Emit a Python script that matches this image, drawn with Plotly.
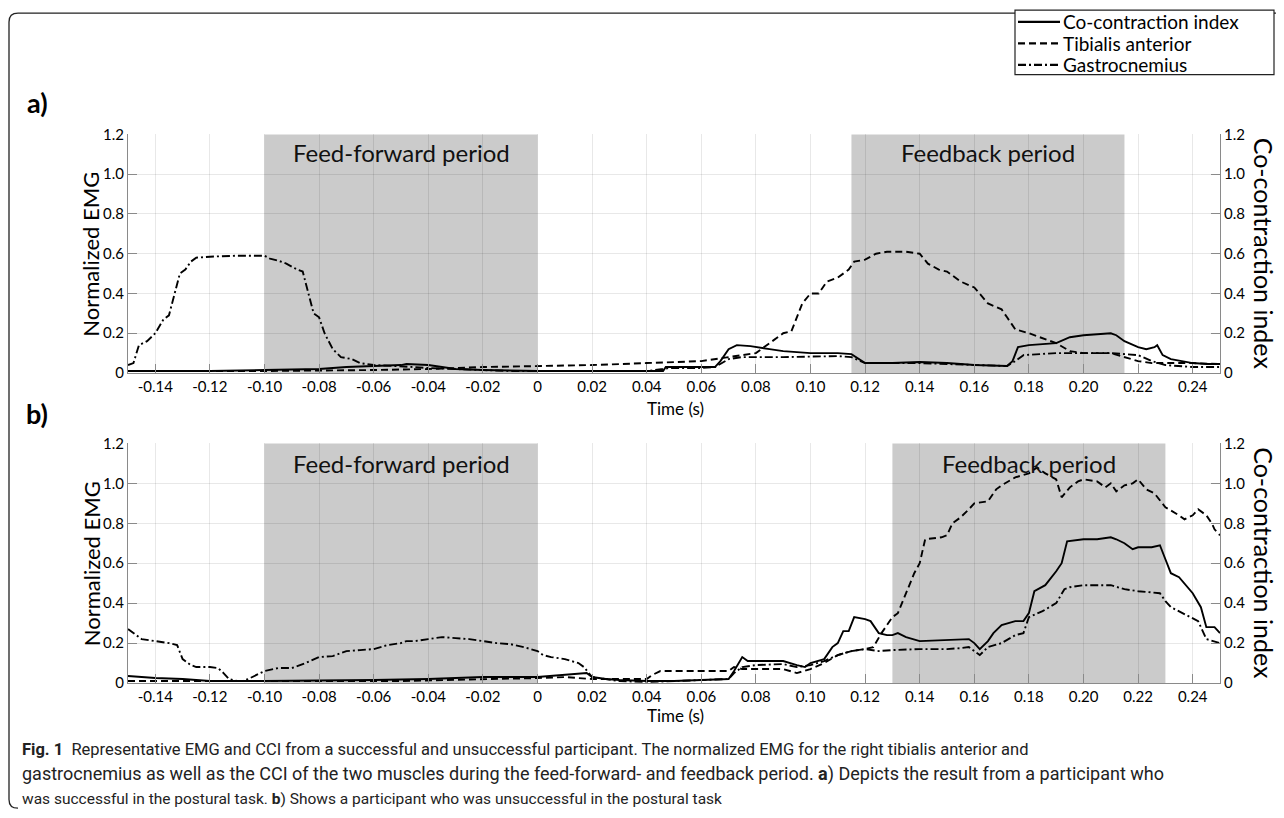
import plotly.graph_objects as go

W, H = 1284, 818

# ---------------- data ----------------
# Panel a (successful participant)
a_ga_t = [-0.150, -0.148, -0.146, -0.143, -0.140, -0.137, -0.135, -0.133, -0.131, -0.129, -0.127, -0.125,
          -0.120, -0.110, -0.100, -0.098, -0.095, -0.092, -0.088, -0.086, -0.084, -0.082, -0.080, -0.078,
          -0.075, -0.072, -0.068, -0.065, -0.060, -0.050, -0.045, -0.040, -0.030, -0.020, -0.010, 0.000,
          0.020, 0.040, 0.046, 0.048, 0.060, 0.065, 0.070, 0.075, 0.090, 0.110, 0.115, 0.120, 0.140,
          0.160, 0.172, 0.175, 0.178, 0.190, 0.210, 0.220, 0.225, 0.230, 0.240, 0.250]
a_ga_v = [0.04, 0.05, 0.14, 0.16, 0.20, 0.27, 0.29, 0.40, 0.50, 0.52, 0.56, 0.58,
          0.585, 0.59, 0.59, 0.575, 0.565, 0.55, 0.52, 0.51, 0.40, 0.30, 0.28, 0.20,
          0.12, 0.08, 0.07, 0.05, 0.04, 0.035, 0.03, 0.025, 0.02, 0.015, 0.01, 0.01,
          0.01, 0.01, 0.02, 0.025, 0.025, 0.03, 0.07, 0.08, 0.08, 0.085, 0.08, 0.05, 0.05,
          0.04, 0.035, 0.06, 0.09, 0.10, 0.10, 0.09, 0.06, 0.04, 0.03, 0.03]

a_ta_t = [-0.150, -0.100, -0.060, -0.040, -0.020, 0.000, 0.020, 0.040, 0.060, 0.070, 0.080, 0.085,
          0.090, 0.093, 0.097, 0.100, 0.103, 0.106, 0.110, 0.114, 0.116, 0.120, 0.124, 0.128, 0.135,
          0.140, 0.143, 0.147, 0.150, 0.155, 0.160, 0.165, 0.170, 0.172, 0.175, 0.180, 0.190, 0.195,
          0.200, 0.210, 0.215, 0.220, 0.225, 0.230, 0.240, 0.250]
a_ta_v = [0.01, 0.01, 0.015, 0.02, 0.03, 0.035, 0.04, 0.05, 0.06, 0.08, 0.10, 0.15,
          0.20, 0.21, 0.35, 0.40, 0.40, 0.46, 0.48, 0.52, 0.56, 0.57, 0.60, 0.61, 0.61,
          0.60, 0.55, 0.52, 0.51, 0.46, 0.43, 0.35, 0.32, 0.28, 0.22, 0.20, 0.15, 0.11,
          0.10, 0.10, 0.08, 0.06, 0.05, 0.05, 0.05, 0.045]

a_cci_t = [-0.150, -0.120, -0.100, -0.080, -0.070, -0.060, -0.050, -0.048, -0.040, -0.035, -0.030,
           -0.020, 0.000, 0.020, 0.046, 0.047, 0.065, 0.067, 0.070, 0.073, 0.078, 0.085, 0.090, 0.100,
           0.110, 0.115, 0.118, 0.120, 0.130, 0.140, 0.150, 0.160, 0.172, 0.174, 0.176, 0.180, 0.190,
           0.195, 0.200, 0.205, 0.210, 0.212, 0.215, 0.220, 0.223, 0.226, 0.227, 0.229, 0.232, 0.236,
           0.240, 0.245, 0.250]
a_cci_v = [0.01, 0.01, 0.015, 0.02, 0.03, 0.035, 0.04, 0.045, 0.04, 0.03, 0.02,
           0.015, 0.01, 0.01, 0.01, 0.03, 0.03, 0.06, 0.12, 0.14, 0.135, 0.12, 0.11, 0.10,
           0.10, 0.095, 0.07, 0.05, 0.05, 0.055, 0.05, 0.04, 0.035, 0.06, 0.13, 0.14, 0.15,
           0.18, 0.19, 0.195, 0.20, 0.19, 0.16, 0.13, 0.12, 0.13, 0.14, 0.09, 0.07, 0.06,
           0.05, 0.045, 0.045]

# Panel b (unsuccessful participant)
b_ga_t = [-0.150, -0.147, -0.145, -0.140, -0.135, -0.132, -0.131, -0.130, -0.127, -0.125, -0.120,
          -0.117, -0.115, -0.113, -0.110, -0.108, -0.106, -0.103, -0.100, -0.095, -0.090, -0.087,
          -0.085, -0.080, -0.075, -0.072, -0.070, -0.065, -0.060, -0.055, -0.050, -0.048, -0.045,
          -0.040, -0.035, -0.030, -0.025, -0.020, -0.015, -0.010, -0.005, 0.000, 0.002, 0.005, 0.010,
          0.015, 0.017, 0.020, 0.025, 0.030, 0.040, 0.050, 0.060, 0.070, 0.072, 0.075, 0.080, 0.090,
          0.095, 0.100, 0.105, 0.110, 0.115, 0.120, 0.125, 0.130, 0.140, 0.150, 0.155, 0.158, 0.162,
          0.165, 0.170, 0.175, 0.178, 0.180, 0.185, 0.190, 0.193, 0.195, 0.200, 0.210, 0.215, 0.220,
          0.228, 0.230, 0.232, 0.238, 0.242, 0.245, 0.248, 0.250]
b_ga_v = [0.27, 0.24, 0.22, 0.21, 0.20, 0.19, 0.15, 0.12, 0.09, 0.08, 0.08,
          0.075, 0.05, 0.02, 0.01, 0.01, 0.02, 0.04, 0.06, 0.075, 0.075, 0.09,
          0.10, 0.13, 0.135, 0.15, 0.16, 0.165, 0.17, 0.19, 0.20, 0.21, 0.21,
          0.22, 0.23, 0.225, 0.22, 0.21, 0.20, 0.195, 0.18, 0.16, 0.14, 0.13, 0.12,
          0.10, 0.08, 0.03, 0.02, 0.01, 0.005, 0.01, 0.015, 0.02, 0.05, 0.08, 0.09, 0.095,
          0.08, 0.09, 0.11, 0.14, 0.16, 0.17, 0.16, 0.165, 0.17, 0.17, 0.175, 0.18, 0.14,
          0.18, 0.20, 0.24, 0.25, 0.33, 0.36, 0.40, 0.47, 0.48, 0.49, 0.49, 0.47, 0.46,
          0.45, 0.41, 0.38, 0.34, 0.31, 0.22, 0.21, 0.20]

b_ta_t = [-0.150, -0.110, -0.050, 0.000, 0.010, 0.020, 0.030, 0.040, 0.042, 0.045, 0.070, 0.072,
          0.075, 0.090, 0.095, 0.100, 0.105, 0.110, 0.115, 0.120, 0.123, 0.126, 0.130, 0.132, 0.135,
          0.138, 0.140, 0.142, 0.148, 0.150, 0.152, 0.155, 0.158, 0.160, 0.165, 0.168, 0.170, 0.175,
          0.180, 0.183, 0.186, 0.190, 0.192, 0.195, 0.198, 0.200, 0.205, 0.208, 0.210, 0.212, 0.215,
          0.218, 0.220, 0.223, 0.226, 0.230, 0.235, 0.237, 0.240, 0.242, 0.245, 0.247, 0.248, 0.250]
b_ta_v = [0.01, 0.01, 0.01, 0.025, 0.03, 0.02, 0.02, 0.02, 0.04, 0.06, 0.06, 0.08,
          0.07, 0.07, 0.05, 0.07, 0.10, 0.14, 0.16, 0.17, 0.18, 0.25, 0.33, 0.35, 0.45,
          0.55, 0.60, 0.72, 0.73, 0.74, 0.80, 0.83, 0.87, 0.90, 0.91, 0.97, 0.99, 1.03,
          1.05, 1.08, 1.05, 1.02, 0.93, 0.98, 1.01, 1.02, 1.01, 0.98, 1.00, 0.96, 0.99,
          1.00, 1.02, 0.97, 0.95, 0.88, 0.84, 0.82, 0.84, 0.87, 0.84, 0.80, 0.77, 0.74]

b_cci_t = [-0.150, -0.140, -0.130, -0.125, -0.120, -0.100, -0.080, -0.060, -0.040, -0.020, 0.000,
           0.010, 0.018, 0.020, 0.025, 0.030, 0.040, 0.050, 0.060, 0.070, 0.072, 0.075, 0.077, 0.090,
           0.095, 0.098, 0.100, 0.105, 0.108, 0.110, 0.112, 0.114, 0.116, 0.120, 0.122, 0.125, 0.128,
           0.130, 0.132, 0.135, 0.140, 0.150, 0.158, 0.160, 0.162, 0.165, 0.167, 0.170, 0.175, 0.178,
           0.180, 0.182, 0.186, 0.190, 0.192, 0.194, 0.200, 0.205, 0.210, 0.212, 0.215, 0.218, 0.220,
           0.225, 0.228, 0.230, 0.232, 0.235, 0.240, 0.243, 0.245, 0.248, 0.250]
b_cci_v = [0.035, 0.025, 0.02, 0.015, 0.01, 0.01, 0.012, 0.015, 0.02, 0.03, 0.03,
           0.04, 0.05, 0.03, 0.02, 0.015, 0.01, 0.01, 0.015, 0.02, 0.06, 0.13, 0.11, 0.11,
           0.09, 0.08, 0.10, 0.12, 0.18, 0.20, 0.26, 0.26, 0.33, 0.32, 0.31, 0.25, 0.24,
           0.24, 0.25, 0.23, 0.21, 0.215, 0.22, 0.20, 0.17, 0.21, 0.25, 0.29, 0.31, 0.31,
           0.35, 0.46, 0.49, 0.56, 0.60, 0.71, 0.72, 0.72, 0.73, 0.72, 0.70, 0.67, 0.68,
           0.68, 0.69, 0.62, 0.55, 0.53, 0.45, 0.38, 0.28, 0.28, 0.25]

# shaded periods (start, end) in seconds
a_periods = [(-0.100, 0.000), (0.115, 0.215)]
b_periods = [(-0.100, 0.000), (0.130, 0.230)]
period_labels = ["Feed-forward period", "Feedback period"]

x_tickvals = [-0.14, -0.12, -0.10, -0.08, -0.06, -0.04, -0.02, 0, 0.02, 0.04, 0.06, 0.08,
              0.10, 0.12, 0.14, 0.16, 0.18, 0.20, 0.22, 0.24]
x_ticktext = ["-0.14", "-0.12", "-0.10", "-0.08", "-0.06", "-0.04", "-0.02", "0", "0.02", "0.04",
              "0.06", "0.08", "0.10", "0.12", "0.14", "0.16", "0.18", "0.20", "0.22", "0.24"]
y_tickvals = [0, 0.2, 0.4, 0.6, 0.8, 1.0, 1.2]
y_ticktext = ["0", "0.2", "0.4", "0.6", "0.8", "1.0", "1.2"]

series_names = ["Co-contraction index", "Tibialis anterior", "Gastrocnemius"]

# ---------------- styling / layout ----------------
FONT = "Lato, 'Open Sans', sans-serif"
CAP_FONT = "Roboto, 'Liberation Sans', sans-serif"
SOLID = "solid"
TA_DASH = "7px,4px"
GA_DASH = "8px,3px,2px,3px"
LW = 1.9
OFF = 8  # page body margin of the html page


def px_x(p):
    return (p - OFF) / W


def px_y(p):
    return 1 - (p - OFF) / H


X0, X1 = px_x(128), px_x(1220)
A_TOP, A_BOT = px_y(127), px_y(371)
B_TOP, B_BOT = px_y(443), px_y(688)

fig = go.Figure()

panels = [
    dict(xa="x", ya="y", yr="y3", cci=(a_cci_t, a_cci_v), ta=(a_ta_t, a_ta_v), ga=(a_ga_t, a_ga_v)),
    dict(xa="x2", ya="y2", yr="y4", cci=(b_cci_t, b_cci_v), ta=(b_ta_t, b_ta_v), ga=(b_ga_t, b_ga_v)),
]
for p in panels:
    fig.add_trace(go.Scatter(x=p["cci"][0], y=p["cci"][1], mode="lines", name=series_names[0],
                             line=dict(color="black", width=LW), xaxis=p["xa"], yaxis=p["yr"],
                             showlegend=False))
    fig.add_trace(go.Scatter(x=p["ta"][0], y=p["ta"][1], mode="lines", name=series_names[1],
                             line=dict(color="black", width=LW, dash=TA_DASH), xaxis=p["xa"], yaxis=p["ya"],
                             showlegend=False))
    fig.add_trace(go.Scatter(x=p["ga"][0], y=p["ga"][1], mode="lines", name=series_names[2],
                             line=dict(color="black", width=LW, dash=GA_DASH), xaxis=p["xa"], yaxis=p["ya"],
                             showlegend=False))

shapes = []
annotations = []


def ann(x, y, text, size, angle=0, xanchor="center", color="black", family=FONT):
    annotations.append(dict(x=px_x(x), y=px_y(y), xref="paper", yref="paper", text=text, showarrow=False,
                            textangle=angle, xanchor=xanchor, yanchor="middle",
                            font=dict(family=family, size=size, color=color)))


for periods, xa, ya, ly in [(a_periods, "x", "y", 1.11), (b_periods, "x2", "y2", 1.1)]:
    for (s, e), lab in zip(periods, period_labels):
        shapes.append(dict(type="rect", xref=xa, yref=ya + " domain", x0=s, x1=e, y0=0, y1=1,
                           fillcolor="#cbcbcb", line=dict(width=0), layer="below"))
        annotations.append(dict(x=(s + e) / 2, y=ly, xref=xa, yref=ya, text=lab, showarrow=False,
                                font=dict(family=FONT, size=24, color="#111"), xanchor="center", yanchor="middle"))

# figure border (rounded on the left)
bx, by_t, by_b, r = 9, 3, 816, 9
path = (f"M 1.02,{px_y(by_t)} L {px_x(bx + r)},{px_y(by_t)} "
        f"Q {px_x(bx)},{px_y(by_t)} {px_x(bx)},{px_y(by_t + r)} "
        f"L {px_x(bx)},{px_y(by_b - r)} Q {px_x(bx)},{px_y(by_b)} {px_x(bx + r)},{px_y(by_b)}")
shapes.append(dict(type="path", xref="paper", yref="paper", path=path,
                   line=dict(color="#222", width=1.3)))

# legend (drawn box with line samples)
LG_X0, LG_X1, LG_Y0, LG_Y1 = 1015, 1274, 0, 66
shapes.append(dict(type="rect", xref="paper", yref="paper", x0=px_x(LG_X0), x1=px_x(LG_X1),
                   y0=px_y(LG_Y0), y1=px_y(LG_Y1), line=dict(color="#222", width=1.2), fillcolor="white"))
for i, (name, dash) in enumerate(zip(series_names, [SOLID, TA_DASH, GA_DASH])):
    yy = 12 + 22 * i
    shapes.append(dict(type="line", xref="paper", yref="paper", x0=px_x(LG_X0 + 3), x1=px_x(LG_X0 + 45),
                       y0=px_y(yy), y1=px_y(yy), line=dict(color="black", width=2.2, dash=dash)))
    ann(LG_X0 + 46, yy, name, 19, xanchor="left")

# panel letters
ann(37, 94, "<b>a)</b>", 27)
ann(37, 412, "<b>b)</b>", 27)

for top, bot, ty in [(127, 371, 407), (443, 688, 721)]:
    mid = (top + bot) / 2
    ann(91, mid, "Normalized EMG", 22, angle=-90)
    ann(1264, mid, "Co-contraction index", 25, angle=90)
    ann(676, ty, "Time (s)", 17)

caption = [
    ("<b>Fig. 1</b>  Representative EMG and CCI from a successful and unsuccessful participant. "
     "The normalized EMG for the right tibialis anterior and", 16.5),
    ("gastrocnemius as well as the CCI of the two muscles during the feed-forward- and feedback period. "
     "<b>a</b>) Depicts the result from a participant who", 18),
    ("was successful in the postural task. <b>b</b>) Shows a participant who was unsuccessful in the postural task",
     15.5),
]
for i, (line, size) in enumerate(caption):
    ann(20, 756 + 25.5 * i, line, size, xanchor="left", color="#222", family=CAP_FONT)

axis_common = dict(showline=True, linecolor="#8a8a8a", linewidth=1, ticks="inside", ticklen=9,
                   tickcolor="#8a8a8a", tickfont=dict(family=FONT, size=15, color="black"), zeroline=False)
xcommon = dict(axis_common, range=[-0.15, 0.25], tickvals=x_tickvals, ticktext=x_ticktext,
               showgrid=True, gridcolor="rgba(0,0,0,0.09)", gridwidth=1, domain=[X0, X1])
ycommon = dict(axis_common, range=[0, 1.2], tickvals=y_tickvals, ticktext=y_ticktext,
               showgrid=True, gridcolor="rgba(0,0,0,0.09)", gridwidth=1)

fig.update_layout(
    width=W, height=H, autosize=False,
    margin=dict(l=0, r=0, t=0, b=0),
    paper_bgcolor="white", plot_bgcolor="white",
    xaxis=dict(xcommon, anchor="y"),
    xaxis2=dict(xcommon, anchor="y2"),
    yaxis=dict(ycommon, domain=[A_BOT, A_TOP], anchor="x"),
    yaxis2=dict(ycommon, domain=[B_BOT, B_TOP], anchor="x2"),
    yaxis3=dict(ycommon, overlaying="y", side="right", anchor="x", showgrid=False),
    yaxis4=dict(ycommon, overlaying="y2", side="right", anchor="x2", showgrid=False),
    shapes=shapes,
    annotations=annotations,
    showlegend=False,
)

fig.write_html("out.html")
